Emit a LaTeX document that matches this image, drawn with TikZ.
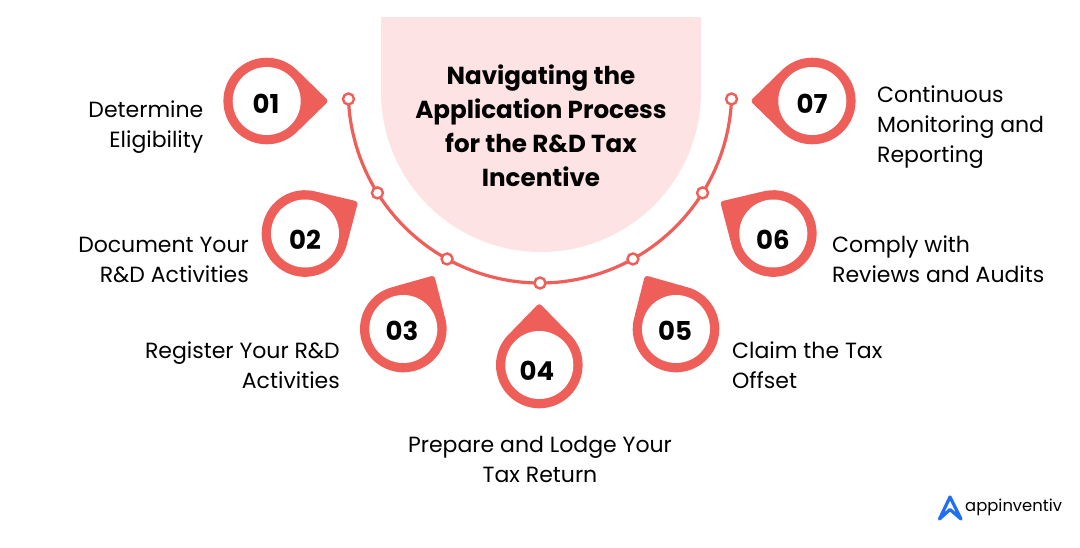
\documentclass[tikz,border=0pt]{standalone}
\usepackage{fontspec}
\usetikzlibrary{calc}
\setmainfont{Poppins}
\definecolor{pinred}{HTML}{EF5F5A}
\definecolor{softpink}{HTML}{FDE3E3}
\definecolor{logoblue}{HTML}{1F6FF5}
\tikzset{
  stepdot/.style={circle,draw=pinred,fill=white,line width=2.4pt,minimum size=11pt,inner sep=0pt},
  stepnum/.style={font=\fontsize{26}{26}\selectfont\bfseries,text=black,inner sep=0pt},
  steptext/.style={font=\fontsize{22}{30}\selectfont,text=black,inner sep=0pt},
  titletext/.style={font=\fontsize{24.6}{34}\selectfont\bfseries,text=black,align=center,inner sep=0pt},
  ringline/.style={draw=pinred,line width=3.2pt}
}
% #1 name, #2 cx, #3 cy, #4 tip direction, #5 number x, #6 number y, #7 number
\newcommand{\steppin}[7]{%
  \begin{scope}[shift={(#2,#3)},rotate=#4]
    \fill[pinred,rounded corners=3pt] (-43.8:43.3) -- (62,0) -- (43.8:43.3) -- (0,0) -- cycle;
    \fill[pinred] (0,0) circle[radius=43.3];
    \fill[white] (0,0) circle[radius=34];
  \end{scope}
  \node[stepnum] (#1) at (#5,#6) {#7};
}
\begin{document}
\begin{tikzpicture}[x=1pt,y=-1pt]
\useasboundingbox (0,0) rectangle (1080,547);
\fill[white] (0,0) rectangle (1080,547);
% title shape
\fill[softpink] (381,17) -- (701,17) -- (701,92) arc[start angle=0,end angle=180,radius=160] -- cycle;
\node[titletext] (title) at (541,126) {Navigating the\\Application Process\\for the R\&D Tax\\Incentive};
% ring
\coordinate (ringc) at (540,91.3);
\foreach \n/\a in {1/177.7,2/148,3/119,4/90,5/61,6/32,7/2.3}
  \coordinate (p\n) at ($(ringc)+(\a:191.7)$);
\draw[ringline] (p1) arc[start angle=177.7,end angle=148,radius=191.7];
\draw[ringline] (p2) arc[start angle=148,end angle=119,radius=191.7];
\draw[ringline] (p3) arc[start angle=119,end angle=90,radius=191.7];
\draw[ringline] (p4) arc[start angle=90,end angle=61,radius=191.7];
\draw[ringline] (p5) arc[start angle=61,end angle=32,radius=191.7];
\draw[ringline] (p6) arc[start angle=32,end angle=2.3,radius=191.7];
\foreach \n in {1,...,7} \node[stepdot] (dot\n) at (p\n) {};
% pins
\steppin{n1}{266.7}{101}{0}{266}{104}{01}
\steppin{n2}{305}{233.5}{31}{305}{240}{02}
\steppin{n3}{403.3}{329}{60}{402}{331}{03}
\steppin{n4}{539.3}{365}{90}{537}{371}{04}
\steppin{n5}{676}{329}{120}{675}{331}{05}
\steppin{n6}{773.3}{233.5}{149}{773}{240}{06}
\steppin{n7}{812.3}{101}{180}{812}{104}{07}
% labels
\node[steptext,align=right,anchor=east] (t1) at (203.5,127) {Determine\\Eligibility};
\node[steptext,align=right,anchor=east] (t2) at (249,260) {Document Your\\R\&D Activities};
\node[steptext,align=right,anchor=east] (t3) at (340,365) {Register Your R\&D\\Activities};
\node[steptext,align=center] (t4) at (540,459) {Prepare and Lodge Your\\Tax Return};
\node[steptext,align=left,anchor=west] (t5) at (732,365) {Claim the Tax\\Offset};
\node[steptext,align=left,anchor=west] (t6) at (832,259) {Comply with\\Reviews and Audits};
\node[steptext,align=left,anchor=west] (t7) at (877,127) {Continuous\\Monitoring and\\Reporting};
% logo
\draw[logoblue,line width=3.2pt,line cap=round,line join=round] (939.5,519) -- (950,497) -- (961,519) -- (950,509.5) -- (939.5,519);
\node[font=\fontsize{16.4}{16.4}\selectfont,text=black,inner sep=0pt,anchor=west] (logo) at (965,507) {appinventiv};
\end{tikzpicture}
\end{document}
